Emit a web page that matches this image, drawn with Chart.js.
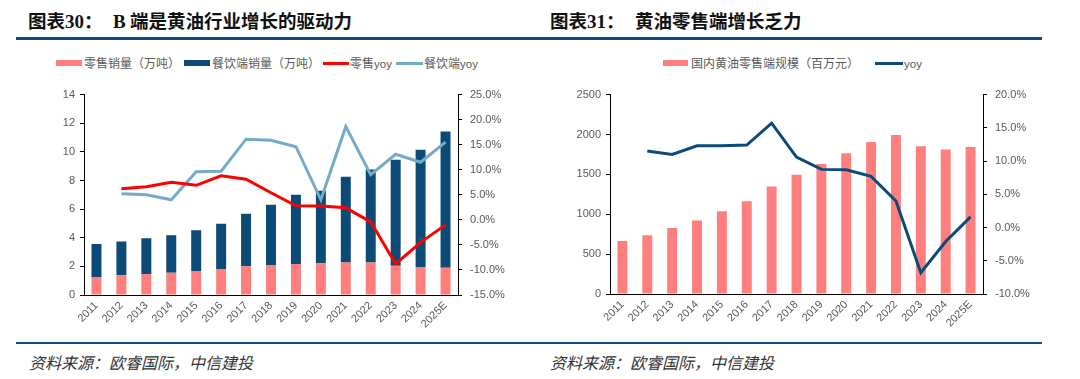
<!DOCTYPE html>
<html>
<head>
<meta charset="utf-8">
<script src="https://cdn.jsdelivr.net/npm/chart.js@4.4.1/dist/chart.umd.min.js"></script>
<style>
  html, body { margin: 0; padding: 0; background: #fff; }
  body { width: 1080px; height: 379px; position: relative; overflow: hidden; font-family: "Liberation Sans", "Noto Sans CJK SC", sans-serif; }
  .title { position: absolute; top: 9px; height: 22px; line-height: 22px; font-size: 18.5px; font-weight: bold; color: #111; white-space: nowrap; font-family: "Noto Sans CJK SC", sans-serif; }
  .serif { font-family: "Liberation Serif", "Times New Roman", serif; font-weight: bold; font-size: 19px; }
  .rule { position: absolute; background: #0D4B7B; }
  .legtext { position: absolute; top: 54px; height: 18px; line-height: 18px; font-size: 12px; color: #595959; white-space: nowrap; font-family: "Noto Sans CJK SC", sans-serif; }
  .lat { font-family: "Liberation Sans", sans-serif; font-size: 11.5px; }
  .box { position: absolute; }
  .src { position: absolute; top: 351px; height: 22px; line-height: 22px; font-size: 16px; font-style: italic; color: #333; white-space: nowrap; font-family: "Noto Sans CJK SC", sans-serif; }
  canvas { position: absolute; }
</style>
</head>
<body>
<div class="title" style="left:28px">图表<span class="serif">30</span>：</div>
<div class="title" style="left:113px"><span class="serif">B</span> 端是黄油行业增长的驱动力</div>
<div class="title" style="left:550px">图表<span class="serif">31</span>：</div>
<div class="title" style="left:635px">黄油零售端增长乏力</div>
<div class="rule" style="left:16px; top:37px; width:1026px; height:3px;"></div>

<!-- left legend -->
<div class="box" style="left:56px; top:60px; width:26px; height:6px; background:#FF7F7F;"></div>
<div class="legtext" style="left:84px;">零售销量（万吨）</div>
<div class="box" style="left:184px; top:60px; width:26px; height:6px; background:#0C4A78;"></div>
<div class="legtext" style="left:212px;">餐饮端销量（万吨）</div>
<div class="box" style="left:323px; top:62px; width:26px; height:3px; background:#FF0000;"></div>
<div class="legtext" style="left:350px;">零售<span class="lat">yoy</span></div>
<div class="box" style="left:396px; top:62px; width:27px; height:3px; background:#75ABC6;"></div>
<div class="legtext" style="left:424px;">餐饮端<span class="lat">yoy</span></div>

<!-- right legend -->
<div class="box" style="left:663px; top:60px; width:25px; height:6px; background:#FF7F7F;"></div>
<div class="legtext" style="left:691px;">国内黄油零售端规模（百万元）</div>
<div class="box" style="left:875px; top:62px; width:28px; height:3px; background:#0C4A78;"></div>
<div class="legtext" style="left:904px;"><span class="lat">yoy</span></div>

<canvas id="c1" width="540" height="270" style="left:0px; top:80px;"></canvas>
<canvas id="c2" width="540" height="270" style="left:540px; top:80px;"></canvas>

<div class="rule" style="left:16px; top:342px; width:1026px; height:2px;"></div>
<div class="src" style="left:29px;">资料来源：欧睿国际，中信建投</div>
<div class="src" style="left:550px;">资料来源：欧睿国际，中信建投</div>

<script>
// ---- data ----
const years = ['2011','2012','2013','2014','2015','2016','2017','2018','2019','2020','2021','2022','2023','2024','2025E'];
// chart 30: volumes (10k tonnes), stacked
const retailVolume = [1.26,1.38,1.47,1.56,1.67,1.81,2.00,2.09,2.16,2.22,2.27,2.27,2.04,1.95,1.90];
const foodserviceVolume = [2.30,2.36,2.50,2.61,2.85,3.17,3.67,4.22,4.84,5.07,5.99,6.49,7.41,8.19,9.52];
// yoy (%)
const retailYoy = [null,6.2,6.6,7.5,6.9,8.8,8.1,5.4,2.8,2.75,2.4,-0.4,-8.8,-4.5,-1.0];
const foodserviceYoy = [null,5.2,5.0,4.0,9.6,9.7,16.1,15.9,14.6,4.0,18.6,9.0,13.1,11.5,15.5];
// chart 31: retail market size (million yuan) and yoy (%)
const retailMarket = [665,738,828,922,1037,1164,1348,1496,1631,1766,1906,1992,1852,1811,1844];
const retailMarketYoy = [null,11.5,11.0,12.3,12.3,12.4,15.7,10.6,8.75,8.7,7.7,4.0,-6.8,-2.1,1.6];
// tick settings
const leftTicks1 = {min: 0, max: 14, step: 2};
const rightTicks1 = {min: -15, max: 25, step: 5};
const leftTicks2 = {min: 0, max: 2500, step: 500};
const rightTicks2 = {min: -10, max: 20, step: 5};

const PINK = '#FF7F7F', NAVY = '#0C4A78', RED = '#FF0000', LBLUE = '#75ABC6';
const tickFont = {family: '"Liberation Sans", "Noto Sans CJK SC", sans-serif', size: 11};
const tickColor = '#595959';

function makeScales(l, r, lw, rw) {
  return {
    x: {
      stacked: true,
      grid: {display: true, drawOnChartArea: false, drawTicks: false},
      border: {display: true, color: '#000', width: 1},
      ticks: {color: tickColor, font: tickFont, minRotation: 45, maxRotation: 45, autoSkip: false, padding: 4},
      afterFit: s => { s.height = 50; }
    },
    y: {
      stacked: true, position: 'left', min: l.min, max: l.max,
      grid: {display: true, drawOnChartArea: false, drawTicks: true, tickLength: 4, color: '#000'},
      border: {display: true, color: '#000', width: 1},
      ticks: {stepSize: l.step, color: tickColor, font: tickFont, padding: 5, callback: v => String(v)},
      afterFit: s => { s.width = lw; }
    },
    y1: {
      stacked: false, position: 'right', min: r.min, max: r.max,
      grid: {display: true, drawOnChartArea: false, drawTicks: true, tickLength: 4, color: '#000'},
      border: {display: true, color: '#000', width: 1},
      ticks: {stepSize: r.step, color: tickColor, font: tickFont, padding: 8, callback: v => v.toFixed(1) + '%'},
      afterFit: s => { s.width = rw; }
    }
  };
}

const common = {
  responsive: false, animation: false, devicePixelRatio: 1,
  plugins: {legend: {display: false}, tooltip: {enabled: false}},
};

new Chart(document.getElementById('c1'), {
  data: {
    labels: years,
    datasets: [
      {type: 'line', label: '零售yoy', data: retailYoy, yAxisID: 'y1', borderColor: RED, borderWidth: 3, pointRadius: 0, tension: 0, order: 0},
      {type: 'line', label: '餐饮端yoy', data: foodserviceYoy, yAxisID: 'y1', borderColor: LBLUE, borderWidth: 3, pointRadius: 0, tension: 0, order: 1},
      {type: 'bar', label: '零售销量（万吨）', data: retailVolume, yAxisID: 'y', backgroundColor: PINK, stack: 's', categoryPercentage: 0.8, barPercentage: 0.5, order: 2},
      {type: 'bar', label: '餐饮端销量（万吨）', data: foodserviceVolume, yAxisID: 'y', backgroundColor: NAVY, stack: 's', categoryPercentage: 0.8, barPercentage: 0.5, order: 3}
    ]
  },
  options: Object.assign({}, common, {
    layout: {padding: {left: 0, right: 22, top: 12, bottom: 5}},
    scales: makeScales(leftTicks1, rightTicks1, 84, 60)
  })
});

new Chart(document.getElementById('c2'), {
  data: {
    labels: years,
    datasets: [
      {type: 'line', label: 'yoy', data: retailMarketYoy, yAxisID: 'y1', borderColor: NAVY, borderWidth: 3, pointRadius: 0, tension: 0, order: 0},
      {type: 'bar', label: '国内黄油零售端规模（百万元）', data: retailMarket, yAxisID: 'y', backgroundColor: PINK, categoryPercentage: 0.8, barPercentage: 0.5, order: 1}
    ]
  },
  options: Object.assign({}, common, {
    layout: {padding: {left: 0, right: 37, top: 11, bottom: 6}},
    scales: makeScales(leftTicks2, rightTicks2, 70, 60)
  })
});
</script>
</body>
</html>
